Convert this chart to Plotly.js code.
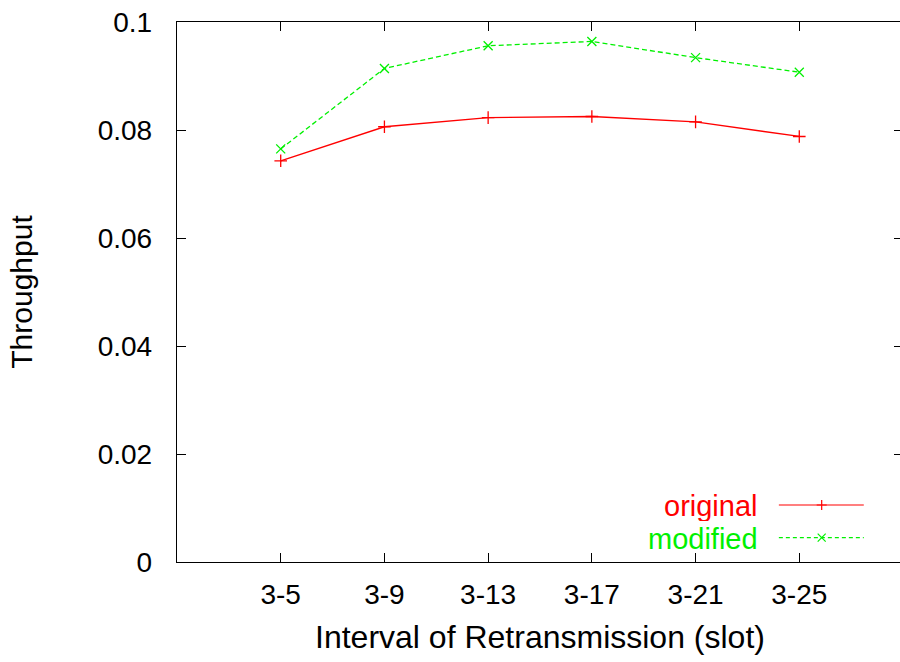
<!DOCTYPE html>
<html>
<head>
<meta charset="utf-8">
<script src="https://cdn.plot.ly/plotly-3.0.1.min.js"></script>
<style>
html,body{margin:0;padding:0;overflow:hidden;background:#fff;}
#chart{width:906px;height:662px;}
</style>
</head>
<body>
<div id="chart"></div>
<script>
var categories = ["3-5", "3-9", "3-13", "3-17", "3-21", "3-25"];
var originalValues = [0.0743, 0.0806, 0.0823, 0.0825, 0.0815, 0.0788];
var modifiedValues = [0.0765, 0.0914, 0.0956, 0.0964, 0.0934, 0.0907];
var yTickValues = [0, 0.02, 0.04, 0.06, 0.08, 0.1];
var yTickLabels = ["0", "0.02", "0.04", "0.06", "0.08", "0.1"];
var seriesNames = ["original", "modified"];

var FONT = "Liberation Sans, Arial, Helvetica, sans-serif";
var RED = "#ff0000";
var GREEN = "#00f000";

var idx = categories.map(function(c, i){ return i; });

var traces = [
  {
    x: idx, y: originalValues, type: "scatter", mode: "lines+markers",
    name: seriesNames[0], showlegend: false, hoverinfo: "skip",
    line: {color: RED, width: 1.3},
    marker: {symbol: "cross-thin-open", size: 9, color: RED, line: {color: RED, width: 1.3}}
  },
  {
    x: idx, y: modifiedValues, type: "scatter", mode: "lines+markers",
    name: seriesNames[1], showlegend: false, hoverinfo: "skip",
    line: {color: GREEN, width: 1.3, dash: "5px,3px"},
    marker: {symbol: "x-thin-open", size: 9, color: GREEN, line: {color: GREEN, width: 1.3}}
  }
];

// manual legend (text left of sample, like gnuplot)
var legRows = [
  {name: seriesNames[0], color: RED, dash: "solid", y: 0.1056, ty: 0.103, mark: "M-5,0L5,0M0,-5L0,5"},
  {name: seriesNames[1], color: GREEN, dash: "4px,3px", y: 0.045, ty: 0.043, mark: "M-4,-4L4,4M-4,4L4,-4"}
];
var shapes = [];
var annotations = [];
legRows.forEach(function(r){
  shapes.push({type: "line", xref: "paper", yref: "paper", x0: 0.829, x1: 0.946, y0: r.y, y1: r.y,
    line: {color: r.color, width: 1.2, dash: r.dash}});
  shapes.push({type: "path", xref: "paper", yref: "paper", xsizemode: "pixel", ysizemode: "pixel",
    xanchor: 0.888, yanchor: r.y, path: r.mark, line: {color: r.color, width: 1.2}});
  annotations.push({xref: "paper", yref: "paper", x: 0.802, y: r.ty, xanchor: "right", yanchor: "middle",
    text: r.name, showarrow: false, height: 30, borderpad: 0,
    font: {family: FONT, size: 29, color: r.color}});
});

var layout = {
  width: 906, height: 662,
  margin: {l: 177, r: 3, t: 22, b: 100, pad: 0},
  paper_bgcolor: "#fff", plot_bgcolor: "#fff",
  showlegend: false,
  xaxis: {
    range: [-1, 6], tickmode: "array", tickvals: idx, ticktext: categories,
    ticks: "inside", ticklen: 9, tickwidth: 1, tickcolor: "#000",
    showline: true, linecolor: "#000", linewidth: 1.2, mirror: "ticks",
    showgrid: false, zeroline: false, ticklabelstandoff: 7,
    tickfont: {family: FONT, size: 28, color: "#000"},
    title: {text: "Interval of Retransmission (slot)", font: {family: FONT, size: 32, color: "#000"}, standoff: 16}
  },
  yaxis: {
    range: [0, 0.1], tickmode: "array", tickvals: yTickValues, ticktext: yTickLabels,
    ticks: "inside", ticklen: 9, tickwidth: 1, tickcolor: "#000",
    showline: true, linecolor: "#000", linewidth: 1.2, mirror: "ticks",
    showgrid: false, zeroline: false, ticklabelstandoff: 18,
    tickfont: {family: FONT, size: 28, color: "#000"},
    title: {text: "Throughput", font: {family: FONT, size: 30, color: "#000"}, standoff: 56}
  },
  shapes: shapes,
  annotations: annotations
};

Plotly.newPlot("chart", traces, layout, {staticPlot: true, displayModeBar: false});
</script>
</body>
</html>
